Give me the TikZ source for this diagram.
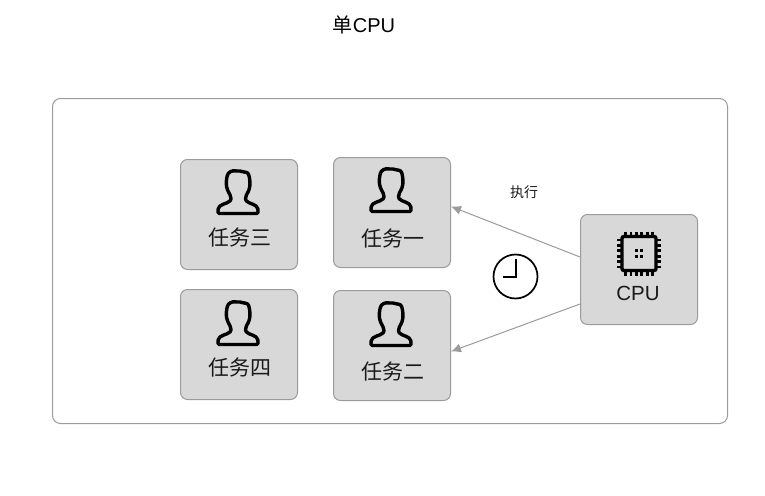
\documentclass[tikz,border=0pt]{standalone}
\usepackage{fontspec}
\setmainfont{Liberation Sans}
\newfontfamily\cjk{Noto Sans CJK SC}
\usetikzlibrary{arrows.meta}
\definecolor{boxfill}{HTML}{D8D8D8}
\definecolor{boxline}{HTML}{9B9B9B}
\definecolor{ink}{HTML}{000000}
\tikzset{
  taskbox/.style={draw=boxline,fill=boxfill,line width=1pt,rounded corners=7pt,minimum width=117pt,minimum height=110pt,inner sep=0pt},
  frame/.style={draw=boxline,line width=1pt,rounded corners=8pt,minimum width=675pt,minimum height=325pt,inner sep=0pt},
  tasklabel/.style={font=\fontsize{21}{24}\selectfont\cjk,text=black!90,inner sep=0pt},
  conn/.style={draw=boxline,line width=1pt,-{Latex[length=10pt,width=9pt]}},
  pics/person/.style={code={
    \draw[ink,line width=3.4pt,line join=round,rounded corners=1.2pt]
      (-2,0) .. controls (-6,-0.5) and (-10,1) .. (-11,6)
      .. controls (-12,11) and (-12,15) .. (-10,20)
      .. controls (-8.5,23) and (-7,25) .. (-7,29)
      .. controls (-11,33) and (-19,33) .. (-20,39)
      -- (-20,42.5) -- (20,42.5) -- (20,39)
      .. controls (19,33) and (11,33) .. (7.5,29)
      .. controls (7.5,25) and (9,23) .. (10.5,20)
      .. controls (12.5,15) and (12,9) .. (11,5)
      .. controls (10,0.5) and (6,1.5) .. (3,0) -- cycle;
  }},
}
\begin{document}
\begin{tikzpicture}[x=1pt,y=-1pt]
\useasboundingbox (0,0) rectangle (765,495);
\node[inner sep=0pt,font=\fontsize{20}{24}\selectfont] (title) at (364,25) {{\cjk 单}CPU};
\node[frame] (outer) at (390,261) {};
\node[taskbox] (t3) at (239,214.5) {};
\node[taskbox] (t1) at (392,212.5) {};
\node[taskbox] (t4) at (239,344.5) {};
\node[taskbox] (t2) at (392,345.5) {};
\node[taskbox] (cpu) at (639,269.5) {};
\pic at (238,171) {person};
\pic at (391,169) {person};
\pic at (238,302) {person};
\pic at (391,303) {person};
\node[tasklabel] (l3) at (239.5,238) {任务三};
\node[tasklabel] (l1) at (392.5,239) {任务一};
\node[tasklabel] (l4) at (239.5,368) {任务四};
\node[tasklabel] (l2) at (392.5,372) {任务二};
\node[inner sep=0pt,font=\fontsize{20.5}{24}\selectfont,text=black!90] (lcpu) at (638,293) {CPU};
\node[inner sep=0pt,font=\fontsize{14}{16}\selectfont\cjk,text=black!90] (exec) at (524,192) {执行};
\draw[conn] ([yshift=12.5pt]cpu.west) -- ([yshift=6pt]t1.east);
\draw[conn] ([yshift=-34.5pt]cpu.west) -- ([yshift=-6pt]t2.east);
% clock
\node[draw=ink,circle,line width=1.7pt,minimum size=44pt,inner sep=0pt] (clock) at (515.5,276.5) {};
\draw[ink,line width=1.7pt] (516,259) -- (516,277) -- (503,277);
% chip
\begin{scope}[shift={(639,253.5)}]
  \draw[ink,line width=3.4pt,rounded corners=2pt] (-17,-17) rectangle (17,17);
  \foreach \p in {-13.5,-8.1,-2.7,2.7,8.1,13.5}{
    \draw[ink,line width=2.8pt] (\p,-22) -- (\p,-17);
    \draw[ink,line width=2.8pt] (\p,22) -- (\p,17);
    \draw[ink,line width=2.8pt] (-22,\p) -- (-17,\p);
    \draw[ink,line width=2.8pt] (22,\p) -- (17,\p);
  }
  \foreach \a in {-2.8,2.8}\foreach \b in {-2.8,2.8}
    \fill[ink] (\a-1.5,\b-1.5) rectangle (\a+1.5,\b+1.5);
\end{scope}
\end{tikzpicture}
\end{document}
